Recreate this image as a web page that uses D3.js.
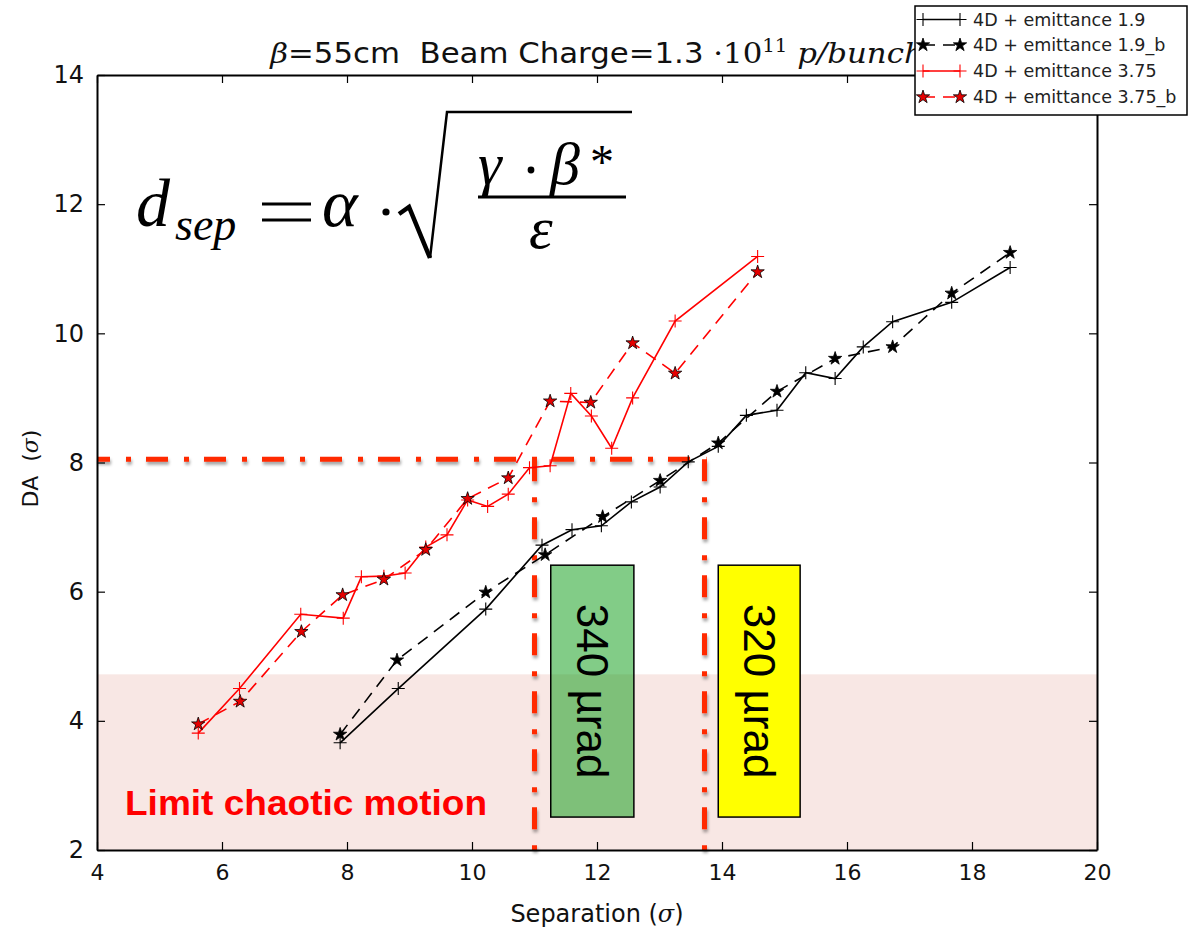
<!DOCTYPE html>
<html><head><meta charset="utf-8">
<script src="https://cdn.jsdelivr.net/npm/d3@7"></script>
<style>body{margin:0;background:#fff} svg{display:block}</style>
</head><body>
<svg id="c" width="1190" height="930"></svg>
<script>
// ---------- data ----------
const sep19  = [7.89, 8.82, 10.22, 11.12, 11.60, 12.07, 12.55, 13.01, 13.46, 13.94, 14.39, 14.88, 15.34, 15.81, 16.26, 16.73, 17.675, 18.61];
const da19   = [3.66, 4.50, 5.73, 6.72, 6.96, 7.02, 7.39, 7.62, 8.01, 8.25, 8.73, 8.81, 9.39, 9.30, 9.79, 10.18, 10.48, 11.02];
const sep19b = [7.89, 8.80, 10.22, 11.17, 12.09, 13.01, 13.94, 14.88, 15.81, 16.73, 17.675, 18.61];
const da19b  = [3.79, 4.94, 5.99, 6.57, 7.16, 7.72, 8.30, 9.10, 9.61, 9.79, 10.62, 11.25];
const sep375 = [5.62, 6.28, 7.26, 7.94, 8.23, 8.59, 8.93, 9.26, 9.60, 9.93, 10.25, 10.58, 10.92, 11.25, 11.58, 11.91, 12.235, 12.57, 13.25, 14.57];
const da375  = [3.81, 4.50, 5.65, 5.59, 6.23, 6.24, 6.29, 6.69, 6.88, 7.42, 7.32, 7.51, 7.92, 7.95, 9.07, 8.72, 8.22, 9.00, 10.19, 11.19];
const sep375b = [5.62, 6.29, 7.27, 7.93, 8.59, 9.26, 9.93, 10.58, 11.25, 11.90, 12.57, 13.25, 14.57];
const da375b  = [3.95, 4.30, 5.38, 5.95, 6.19, 6.65, 7.44, 7.76, 8.95, 8.93, 9.85, 9.38, 10.95];

const seriesNames = ["4D + emittance 1.9", "4D + emittance 1.9_b", "4D + emittance 3.75", "4D + emittance 3.75_b"];
const xTicks = [4, 6, 8, 10, 12, 14, 16, 18, 20];
const yTicks = [2, 4, 6, 8, 10, 12, 14];
const angleLabels = ["340 µrad", "320 µrad"];
const thresholdDA = 8.05;
const thresholdSep = [11.0, 13.72];
const chaoticLimit = 4.72;
const chaoticLabel = "Limit chaotic motion";
const boxSep = [[11.26, 12.59], [13.94, 15.25]];
const boxDA = [2.51, 6.41];

// ---------- setup ----------
const svg = d3.select("#c");
const L = 97, R = 1097, T = 75, B = 850;
const x = d3.scaleLinear([4, 20], [L, R]);
const y = d3.scaleLinear([2, 14], [B, T]);

const defs = svg.append("defs");
const f = defs.append("filter").attr("id", "sh").attr("filterUnits", "userSpaceOnUse")
  .attr("x", 0).attr("y", 0).attr("width", 1190).attr("height", 930);
f.append("feDropShadow").attr("dx", 1).attr("dy", 3).attr("stdDeviation", 1.6)
  .attr("flood-color", "#000").attr("flood-opacity", 0.35);

// chaotic band
svg.append("rect").attr("x", x(4)).attr("width", x(20) - x(4))
  .attr("y", y(chaoticLimit)).attr("height", y(2) - y(chaoticLimit))
  .attr("fill", "#f8e7e4");

// threshold dash-dot lines
const red = "#ff2a00";
const ann = svg.append("g").attr("filter", "url(#sh)").attr("stroke", red)
  .attr("stroke-width", 5).attr("stroke-dasharray", "22,16,5,15").attr("fill", "none");
ann.append("line").attr("x1", x(4)).attr("x2", x(thresholdSep[1]) + 2)
  .attr("y1", y(thresholdDA)).attr("y2", y(thresholdDA)).attr("stroke-dashoffset", 9);
thresholdSep.forEach(s => {
  ann.append("line").attr("x1", x(s)).attr("x2", x(s))
    .attr("y1", y(thresholdDA)).attr("y2", y(2));
});

// ---------- data lines ----------
const line = d3.line().x(d => x(d[0])).y(d => y(d[1]));
const zip = (a, b) => a.map((v, i) => [v, b[i]]);
const starPath = d3.symbol(d3.symbolStar, 55)();
const plusPath = "M-6.5,0H6.5M0,-6.5V6.5";

const series = [
  {pts: zip(sep19, da19), color: "#000", dash: null, marker: "plus"},
  {pts: zip(sep19b, da19b), color: "#000", dash: "12,8", marker: "star", fill: "#000"},
  {pts: zip(sep375, da375), color: "#ff0000", dash: null, marker: "plus"},
  {pts: zip(sep375b, da375b), color: "#ff0000", dash: "12,8", marker: "star", fill: "#e60000"}
];

series.forEach(s => {
  svg.append("path").attr("d", line(s.pts)).attr("fill", "none")
    .attr("stroke", s.color).attr("stroke-width", 1.6)
    .attr("stroke-dasharray", s.dash);
  const g = svg.append("g");
  g.selectAll("path").data(s.pts).join("path")
    .attr("transform", d => `translate(${x(d[0])},${y(d[1])})`)
    .attr("d", s.marker === "plus" ? plusPath : starPath)
    .attr("fill", s.marker === "plus" ? "none" : s.fill)
    .attr("stroke", s.marker === "plus" ? s.color : "#000")
    .attr("stroke-width", s.marker === "plus" ? 1.1 : 0.8);
});

// ---------- axes ----------
const tickFont = "'DejaVu Sans', sans-serif";
function styleAxis(g, fs) {
  g.select(".domain").attr("stroke", "#000").attr("stroke-width", 2);
  g.selectAll(".tick line").attr("stroke", "#000").attr("stroke-width", 1.2);
  g.selectAll(".tick text").attr("font-family", tickFont).attr("font-size", fs).attr("fill", "#111");
}
svg.append("g").attr("transform", `translate(0,${B})`)
  .call(d3.axisBottom(x).tickValues(xTicks).tickSizeInner(-8).tickSizeOuter(0).tickPadding(14))
  .call(styleAxis, 22);
svg.append("g").attr("transform", `translate(0,${T})`)
  .call(d3.axisTop(x).tickValues(xTicks).tickSizeInner(-8).tickSizeOuter(0).tickFormat(""))
  .call(styleAxis, 22);
svg.append("g").attr("transform", `translate(${L},0)`)
  .call(d3.axisLeft(y).tickValues(yTicks).tickSizeInner(-8).tickSizeOuter(0).tickPadding(13))
  .call(styleAxis, 24);
svg.append("g").attr("transform", `translate(${R},0)`)
  .call(d3.axisRight(y).tickValues(yTicks).tickSizeInner(-8).tickSizeOuter(0).tickFormat(""))
  .call(styleAxis, 24);

// axis labels
const xl = svg.append("text").attr("x", (L + R) / 2).attr("y", 922).attr("text-anchor", "middle")
  .attr("font-family", tickFont).attr("font-size", 24).attr("fill", "#111");
xl.append("tspan").text("Separation (");
xl.append("tspan").attr("font-family", "'DejaVu Serif', serif").attr("font-style", "italic").text("σ");
xl.append("tspan").text(")");
const yl = svg.append("text").attr("transform", `translate(38,${(T + B) / 2 + 6}) rotate(-90)`)
  .attr("text-anchor", "middle").attr("font-family", tickFont).attr("font-size", 22).attr("fill", "#111")
  .style("white-space", "pre");
yl.append("tspan").text("DA  (");
yl.append("tspan").attr("font-family", "'DejaVu Serif', serif").attr("font-style", "italic").text("σ");
yl.append("tspan").text(")");

// ---------- boxes ----------
const boxFill = [{fill: "#00960a", op: 0.49}, {fill: "#ffff00", op: 1}];
boxSep.forEach((bs, i) => {
  const x0 = x(bs[0]), x1 = x(bs[1]), y0 = y(boxDA[1]), y1 = y(boxDA[0]);
  svg.append("rect").attr("x", x0).attr("y", y0).attr("width", x1 - x0).attr("height", y1 - y0)
    .attr("fill", boxFill[i].fill).attr("fill-opacity", boxFill[i].op)
    .attr("stroke", "#000").attr("stroke-width", 1.5);
  svg.append("text").attr("transform", `translate(${(x0 + x1) / 2 - 15},${(y0 + y1) / 2}) rotate(90)`)
    .attr("text-anchor", "middle").attr("font-family", "'Liberation Sans', sans-serif")
    .attr("font-size", 44).attr("fill", "#000").text(angleLabels[i]);
});

// chaotic label
svg.append("text").attr("x", 125).attr("y", 815).attr("font-family", "'Liberation Sans', sans-serif")
  .attr("font-weight", "bold").attr("font-size", 35).attr("fill", "#ff0000")
  .attr("textLength", 362).attr("lengthAdjust", "spacingAndGlyphs").text(chaoticLabel);

// ---------- formula ----------
const fm = svg.append("g").attr("fill", "#000").attr("font-family", "'Liberation Serif', serif").attr("font-style", "italic");
fm.append("text").attr("x", 136).attr("y", 226).attr("font-size", 68).text("d");
fm.append("text").attr("x", 175).attr("y", 240).attr("font-size", 46).text("sep");
fm.append("path").attr("d", "M262,204H311M262,220H311").attr("stroke", "#000").attr("stroke-width", 3);
fm.append("text").attr("x", 322).attr("y", 226).attr("font-size", 68).text("α");
fm.append("circle").attr("cx", 386).attr("cy", 212).attr("r", 3.6);
fm.append("path").attr("d", "M399,214L409,207L430,258").attr("stroke", "#000").attr("stroke-width", 4.5).attr("fill", "none");
fm.append("path").attr("d", "M430,258L447,112H632").attr("stroke", "#000").attr("stroke-width", 2.5).attr("fill", "none");
fm.append("text").attr("x", 478).attr("y", 184).attr("font-size", 60).text("γ");
fm.append("circle").attr("cx", 531).attr("cy", 170).attr("r", 3.4);
fm.append("text").attr("x", 550).attr("y", 184).attr("font-size", 60).text("β");
fm.append("text").attr("x", 590).attr("y", 178).attr("font-size", 48).attr("font-style", "normal").text("*");
fm.append("line").attr("x1", 478).attr("x2", 626).attr("y1", 197).attr("y2", 197).attr("stroke", "#000").attr("stroke-width", 3);
fm.append("text").attr("x", 529).attr("y", 248).attr("font-size", 60).text("ε");

// ---------- title ----------
const tt = svg.append("text").attr("transform", "translate(597,63) scale(1.1,1)").attr("text-anchor", "middle")
  .attr("font-family", tickFont).attr("font-size", 28).attr("fill", "#111").style("white-space", "pre");
tt.append("tspan").attr("font-family", "'DejaVu Serif', serif").attr("font-style", "italic").text("β");
tt.append("tspan").text("=55cm  Beam Charge=1.3 ");
tt.append("tspan").attr("font-family", "'DejaVu Serif', serif").text("·10");
tt.append("tspan").attr("font-family", "'DejaVu Serif', serif").attr("font-size", 18).attr("dy", -11).text("11");
tt.append("tspan").attr("font-family", "'DejaVu Serif', serif").attr("font-style", "italic").attr("dy", 11).text(" p/bunch");

// ---------- legend ----------
const lg = svg.append("g");
lg.append("rect").attr("x", 915).attr("y", 6).attr("width", 272).attr("height", 109)
  .attr("fill", "#fff").attr("stroke", "#000").attr("stroke-width", 1.5);
const rowsY = [19.5, 45, 71, 97];
series.forEach((s, i) => {
  const yy = rowsY[i];
  lg.append("line").attr("x1", 923).attr("x2", 960).attr("y1", yy).attr("y2", yy)
    .attr("stroke", s.color).attr("stroke-width", 1.6)
    .attr("stroke-dasharray", s.dash ? "12,8" : null);
  [923, 960].forEach(mx => {
    lg.append("path").attr("transform", `translate(${mx},${yy})`)
      .attr("d", s.marker === "plus" ? plusPath : starPath)
      .attr("fill", s.marker === "plus" ? "none" : s.fill)
      .attr("stroke", s.marker === "plus" ? s.color : "#000")
      .attr("stroke-width", s.marker === "plus" ? 1.1 : 0.8);
  });
  lg.append("text").attr("x", 973).attr("y", yy + 6).attr("font-family", tickFont)
    .attr("font-size", 17.5).attr("fill", "#222").text(seriesNames[i]);
});
</script>
</body></html>
